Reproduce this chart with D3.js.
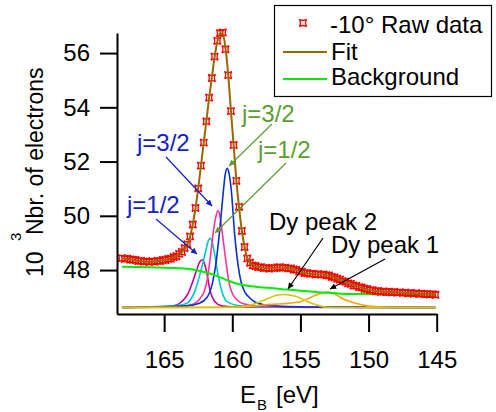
<!DOCTYPE html>
<html>
<head>
<meta charset="utf-8">
<script src="https://cdn.jsdelivr.net/npm/d3@7.9.0/dist/d3.min.js"></script>
<style>
  body { margin: 0; background: #fff; }
  svg { display: block; font-family: "Liberation Sans", Arial, Helvetica, sans-serif; }
</style>
</head>
<body>
<svg id="chart" width="496" height="412"></svg>
<script>
// binding energy grid of the measurement (eV)
const rawEnergy = [
  168.1,167.9,167.7,167.5,167.3,167.1,166.9,166.7,166.5,166.3,
  166.1,165.9,165.7,165.5,165.3,165.1,164.9,164.7,164.5,164.3,
  164.1,163.9,163.7,163.5,163.3,163.1,162.9,162.7,162.5,162.3,
  162.1,161.9,161.7,161.5,161.3,161.1,160.9,160.7,160.5,160.3,
  160.1,159.9,159.7,159.5,159.3,159.1,158.9,158.7,158.5,158.3,
  158.1,157.9,157.7,157.5,157.3,157.1,156.9,156.7,156.5,156.3,
  156.1,155.9,155.7,155.5,155.3,155.1,154.9,154.7,154.5,154.3,
  154.1,153.9,153.7,153.5,153.3,153.1,152.9,152.7,152.5,152.3,
  152.1,151.9,151.7,151.5,151.3,151.1,150.9,150.7,150.5,150.3,
  150.1,149.9,149.7,149.5,149.3,149.1,148.9,148.7,148.5,148.3,
  148.1,147.9,147.7,147.5,147.3,147.1,146.9,146.7,146.5,146.3,
  146.1,145.9,145.7,145.5,145.3,145.1
];
// -10 deg raw data (10^3 electrons)
const rawCounts = [
  48.44,48.41,48.42,48.39,48.38,48.37,48.33,48.34,48.31,48.32,
  48.30,48.32,48.31,48.34,48.33,48.37,48.37,48.41,48.42,48.48,
  48.51,48.60,48.67,48.81,48.95,49.24,49.68,50.29,51.01,51.85,
  52.70,53.48,54.36,55.08,55.87,56.45,56.73,56.76,56.14,55.19,
  53.86,52.61,51.29,50.33,49.44,48.85,48.43,48.27,48.17,48.15,
  48.11,48.11,48.07,48.08,48.05,48.08,48.07,48.10,48.11,48.08,
  48.09,48.06,48.06,48.02,48.01,47.95,47.94,47.89,47.89,47.86,
  47.87,47.84,47.85,47.83,47.84,47.81,47.80,47.75,47.73,47.68,
  47.65,47.59,47.57,47.51,47.49,47.43,47.42,47.37,47.36,47.31,
  47.30,47.26,47.26,47.22,47.23,47.20,47.21,47.19,47.20,47.18,
  47.19,47.17,47.18,47.16,47.17,47.14,47.16,47.13,47.15,47.12,
  47.13,47.11,47.12,47.10,47.11,47.09
];
// total fit on the same grid
const fitCounts = [
  48.43,48.42,48.41,48.40,48.38,48.36,48.34,48.33,48.32,48.31,
  48.31,48.31,48.32,48.33,48.34,48.36,48.38,48.40,48.43,48.47,
  48.52,48.59,48.68,48.80,48.96,49.22,49.70,50.27,51.03,51.83,
  52.68,53.50,54.35,55.10,55.85,56.42,56.72,56.72,56.18,55.20,
  53.88,52.60,51.30,50.30,49.45,48.86,48.45,48.26,48.18,48.14,
  48.12,48.10,48.08,48.07,48.06,48.07,48.08,48.09,48.10,48.09,
  48.08,48.07,48.05,48.03,48.00,47.96,47.93,47.90,47.88,47.87,
  47.86,47.85,47.84,47.84,47.83,47.82,47.79,47.76,47.72,47.69,
  47.64,47.60,47.56,47.52,47.48,47.44,47.41,47.38,47.35,47.32,
  47.29,47.27,47.25,47.23,47.22,47.21,47.20,47.20,47.19,47.19,
  47.18,47.18,47.17,47.17,47.16,47.15,47.15,47.14,47.14,47.13,
  47.12,47.12,47.11,47.11,47.10,47.10
];

// background
const bgEnergy = [168.1,166.0,164.0,163.0,162.0,161.0,160.5,160.0,159.5,159.0,158.0,157.0,156.0,155.0,154.0,153.0,152.0,150.0,148.0,145.1];
const bgCounts = [48.12,48.10,48.07,48.03,47.92,47.76,47.65,47.55,47.48,47.43,47.37,47.33,47.28,47.24,47.20,47.16,47.13,47.11,47.10,47.09];

// fit components
const magentaEnergy = [168.1,167.0,165.3,164.33,163.71,163.23,162.94,162.61,162.4,162.2,162.0,161.87,161.63,161.27,160.78,159.8,157.5,145.1];
const magentaCounts = [46.62,46.63,46.65,46.68,46.83,47.15,47.52,48.01,48.29,48.38,48.17,47.89,47.25,46.83,46.68,46.64,46.63,46.62];
const cyanEnergy = [168.1,166.5,164.6,163.6,163.22,162.72,162.36,161.99,161.8,161.62,161.45,161.32,161.07,160.82,160.42,159.72,158.5,156.0,145.1];
const cyanCounts = [46.62,46.64,46.67,46.73,46.82,47.26,47.87,48.61,49.02,49.17,48.99,48.66,47.90,47.31,46.85,46.70,46.65,46.63,46.62];
const pinkEnergy = [168.1,166.0,164.0,163.05,162.35,162.05,161.85,161.61,161.37,161.2,161.05,160.9,160.76,160.51,160.27,159.9,159.17,158.0,156.0,145.1];
const pinkCounts = [46.62,46.63,46.65,46.71,46.96,47.23,47.62,48.48,49.48,49.98,50.19,49.98,49.48,48.48,47.62,47.05,46.76,46.67,46.64,46.62];
const blueEnergy = [168.1,165.37,163.37,162.47,161.87,161.47,161.17,160.92,160.67,160.52,160.37,160.22,160.07,159.82,159.57,159.37,159.07,158.77,158.37,157.67,156.37,154.37,145.1];
const blueCounts = [46.62,46.64,46.68,46.77,46.98,47.49,48.36,49.49,50.83,51.52,51.75,51.52,50.93,49.29,48.16,47.59,47.18,47.00,46.83,46.72,46.66,46.64,46.62];
const orangeEnergy = [168.1,161.0,158.9,157.7,156.3,155.0,154.26,153.53,153.04,152.55,152.06,151.32,150.59,149.85,148.5,145.1];
const orangeCounts = [46.62,46.63,46.65,46.71,46.76,46.83,46.99,47.14,47.19,47.14,46.99,46.83,46.73,46.66,46.63,46.62];
const yellowEnergy = [168.1,162.0,160.3,159.4,158.68,157.94,157.2,156.75,156.23,155.7,155.24,154.5,153.77,153.04,151.5,145.1];
const yellowCounts = [46.62,46.62,46.63,46.65,46.71,46.83,46.99,47.07,47.10,47.07,47.02,46.83,46.71,46.63,46.62,46.62];

const xTicks = [165, 160, 155, 150, 145];
const yTicks = [48, 50, 52, 54, 56];

let svg = d3.select("#chart");
let x = d3.scaleLinear().domain([168.46, 145]).range([117, 436.7]);
let y = d3.scaleLinear().domain([46.38, 56.74]).range([314, 33]);

const zip = (es, vs) => es.map((e, i) => ({ e: e, v: vs[i] }));
let line = d3.line().x(d => x(d.e)).y(d => y(d.v)).curve(d3.curveMonotoneX);

// arrow heads, one per colour
let defs = svg.append("defs");
function arrowHead(id, color) {
  defs.append("marker")
    .attr("id", id)
    .attr("viewBox", "0 0 10 10")
    .attr("refX", 10).attr("refY", 5)
    .attr("markerWidth", 9).attr("markerHeight", 6)
    .attr("markerUnits", "userSpaceOnUse")
    .attr("orient", "auto")
    .append("path").attr("d", "M0,0L10,5L0,10z").attr("fill", color);
}
arrowHead("ah-blue", "#1020c8");
arrowHead("ah-green", "#5aa02c");
arrowHead("ah-black", "#000");

// components
const components = [
  { e: magentaEnergy, v: magentaCounts, color: "#c8009a" },
  { e: cyanEnergy, v: cyanCounts, color: "#00c8c8" },
  { e: pinkEnergy, v: pinkCounts, color: "#ff3399" },
  { e: blueEnergy, v: blueCounts, color: "#0a32c8" },
  { e: orangeEnergy, v: orangeCounts, color: "#ffa000" },
  { e: yellowEnergy, v: yellowCounts, color: "#d2c800" }
];
components.forEach(c => {
  svg.append("path")
    .datum(zip(c.e, c.v))
    .attr("fill", "none")
    .attr("stroke", c.color)
    .attr("stroke-width", 1.6)
    .attr("d", line);
});

// background
svg.append("path")
  .datum(zip(bgEnergy, bgCounts))
  .attr("fill", "none")
  .attr("stroke", "#00ee00")
  .attr("stroke-width", 2)
  .attr("d", line);

// raw data markers
const s = 3.6;
const markerPath = `M${-s},${-s}Q0,${-s * 0.4} ${s},${-s}Q${s * 0.4},0 ${s},${s}Q0,${s * 0.4} ${-s},${s}Q${-s * 0.4},0 ${-s},${-s}Z`;
svg.append("g")
  .selectAll("path")
  .data(zip(rawEnergy, rawCounts))
  .enter().append("path")
    .attr("transform", d => `translate(${x(d.e)},${y(d.v)})`)
    .attr("d", markerPath)
    .attr("fill", "none")
    .attr("stroke", "#ff0000")
    .attr("stroke-width", 1.3);

// fit
svg.append("path")
  .datum(zip(rawEnergy, fitCounts))
  .attr("fill", "none")
  .attr("stroke", "#996600")
  .attr("stroke-width", 2)
  .attr("d", line);

// axes
let xAxis = svg.append("g")
  .attr("transform", "translate(0,314)")
  .call(d3.axisBottom(x).tickValues(xTicks).tickSize(18).tickSizeOuter(0).tickPadding(19).tickFormat(d3.format("d")));
let yAxis = svg.append("g")
  .attr("transform", "translate(117,0)")
  .call(d3.axisLeft(y).tickValues(yTicks).tickSize(17).tickSizeOuter(0).tickPadding(10).tickFormat(d3.format("d")));
[xAxis, yAxis].forEach(a => {
  a.attr("font-family", null).attr("font-size", null);
  a.selectAll("path, line").attr("stroke", "#000").attr("stroke-width", 2);
  a.selectAll("text").attr("font-size", 24).attr("fill", "#000");
});

// axis titles
svg.append("text").attr("x", 240).attr("y", 403).attr("font-size", 24).text("E");
svg.append("text").attr("x", 257).attr("y", 410).attr("font-size", 15).text("B");
svg.append("text").attr("x", 276).attr("y", 403).attr("font-size", 24).text("[eV]");

svg.append("text").attr("transform", "translate(43,277) rotate(-90)").attr("font-size", 23).text("10");
svg.append("text").attr("transform", "translate(21,241) rotate(-90)").attr("font-size", 15).text("3");
svg.append("text").attr("transform", "translate(43,235) rotate(-90)").attr("font-size", 23).text("Nbr. of electrons");

// annotations
function note(label, tx, ty, x1, y1, x2, y2, color, head) {
  svg.append("text").attr("x", tx).attr("y", ty).attr("font-size", 24).attr("fill", color).text(label);
  svg.append("line")
    .attr("x1", x1).attr("y1", y1).attr("x2", x2).attr("y2", y2)
    .attr("stroke", color).attr("stroke-width", 1.2)
    .attr("marker-end", `url(#${head})`);
}
note("j=3/2", 137, 151, 166, 157, 212, 206, "#1020c8", "ah-blue");
note("j=1/2", 127, 213, 156, 219, 197, 254, "#1020c8", "ah-blue");
note("j=3/2", 242, 122, 272, 124, 229, 166, "#5aa02c", "ah-green");
note("j=1/2", 258, 158, 286, 163, 215, 233, "#5aa02c", "ah-green");
note("Dy peak 2", 269, 230, 323, 238, 288, 289, "#000", "ah-black");
note("Dy peak 1", 331, 253, 385, 259, 330, 289, "#000", "ah-black");

// legend
let legend = svg.append("g");
legend.append("rect")
  .attr("x", 274.5).attr("y", 5.5).attr("width", 217).attr("height", 91)
  .attr("fill", "#fff").attr("stroke", "#000").attr("stroke-width", 1.2);
legend.append("path")
  .attr("transform", "translate(303,23)")
  .attr("d", markerPath).attr("fill", "none").attr("stroke", "#ff0000").attr("stroke-width", 1.3);
legend.append("line").attr("x1", 283).attr("x2", 327).attr("y1", 52).attr("y2", 52)
  .attr("stroke", "#996600").attr("stroke-width", 2);
legend.append("line").attr("x1", 283).attr("x2", 327).attr("y1", 79).attr("y2", 79)
  .attr("stroke", "#00ee00").attr("stroke-width", 2);
legend.append("text").attr("x", 330).attr("y", 33).attr("font-size", 24).text("-10° Raw data");
legend.append("text").attr("x", 331).attr("y", 60).attr("font-size", 24).text("Fit");
legend.append("text").attr("x", 331).attr("y", 85).attr("font-size", 24).text("Background");
</script>
</body>
</html>
